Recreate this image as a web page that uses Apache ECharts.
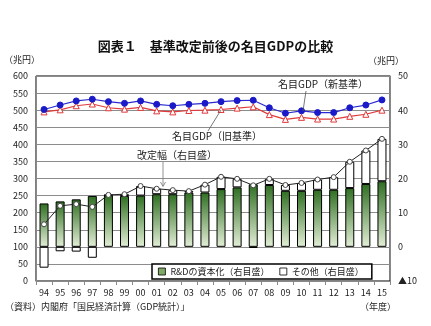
<!DOCTYPE html>
<html>
<head>
<meta charset="utf-8">
<script src="https://cdn.jsdelivr.net/npm/echarts@6/dist/echarts.min.js"></script>
<style>
  html, body { margin: 0; padding: 0; background: #fff; }
  #chart { width: 431px; height: 326px; }
</style>
</head>
<body>
<div id="chart"></div>
<script>
// Fiscal years
const years = ['94','95','96','97','98','99','00','01','02','03','04','05','06','07','08','09','10','11','12','13','14','15'];

// Nominal GDP, trillion yen (left axis)
const gdpNew = [502, 515, 527, 532, 525, 520, 527, 517, 513, 517, 520, 525, 528, 529, 507, 491, 498, 493, 493, 507, 515, 530];
const gdpOld = [495, 501, 513, 518, 507, 503, 508, 498, 495, 499, 500, 502, 506, 510, 487, 473, 479, 474, 474, 482, 488, 500];

// Revision breakdown, trillion yen (right axis)
const rdCapital = [12.7, 13.3, 13.9, 14.9, 15.1, 14.9, 15.0, 15.4, 15.4, 15.9, 15.9, 16.9, 17.4, 18.3, 18.1, 16.4, 16.4, 16.7, 16.7, 17.2, 18.4, 19.2];
const otherItems = [-6.1, -1.3, -1.4, -3.2, 0.1, 0.5, 2.8, 1.6, 1.2, 0.4, 2.3, 3.6, 2.5, -0.3, 1.8, 1.7, 2.3, 3.0, 3.7, 7.7, 9.8, 12.4];
const revision = [6.6, 12.0, 12.5, 11.7, 15.2, 15.4, 17.8, 17.0, 16.6, 16.3, 18.2, 20.5, 19.9, 18.0, 19.9, 18.1, 18.7, 19.7, 20.4, 24.9, 28.2, 31.6];

// Tick labels
const leftTicks = [0, 50, 100, 150, 200, 250, 300, 350, 400, 450, 500, 550, 600];
const rightTickLabel = v => (v < 0 ? '▲' + Math.abs(v) : String(v));

const FONT = '"Noto Sans CJK JP", "Noto Sans", sans-serif';
const chart = echarts.init(document.getElementById('chart'), null, { renderer: 'canvas' });

const greenFill = new echarts.graphic.LinearGradient(0, 0, 0, 1, [
  { offset: 0, color: '#2f6e22' },
  { offset: 1, color: '#e3efd6' }
]);

chart.setOption({
  animation: false,
  backgroundColor: '#fff',
  textStyle: { fontFamily: FONT },
  grid: { left: 36, right: 41, top: 76, bottom: 45, show: true, borderColor: '#000', borderWidth: 1, containLabel: false },
  legend: {
    orient: 'horizontal',
    left: 152, top: 264,
    itemWidth: 7, itemHeight: 7, itemGap: 10,
    padding: [3, 8, 3, 6],
    backgroundColor: '#fff', borderColor: '#000', borderWidth: 1.5,
    textStyle: { fontSize: 9, color: '#222', fontFamily: FONT },
    data: [
      { name: 'R&Dの資本化（右目盛）', icon: 'rect', itemStyle: { color: '#7faa66', borderColor: '#000', borderWidth: 0.8 } },
      { name: 'その他（右目盛）', icon: 'rect', itemStyle: { color: '#fff', borderColor: '#000', borderWidth: 0.8 } }
    ]
  },
  xAxis: {
    type: 'category', data: years,
    axisLine: { onZero: false, lineStyle: { color: '#888', width: 1 } },
    axisTick: { show: true, alignWithLabel: false, length: 4, lineStyle: { color: '#888' } },
    axisLabel: { fontSize: 9, color: '#222', margin: 7, fontFamily: FONT },
    splitLine: { show: false }
  },
  yAxis: [
    {
      type: 'value', min: 0, max: 600, interval: 50, position: 'left',
      axisLine: { show: true, lineStyle: { color: '#888' } },
      axisTick: { show: false },
      axisLabel: { fontSize: 9, color: '#222', margin: 8, fontFamily: FONT,
        formatter: v => (leftTicks.includes(v) ? String(v) : '') },
      splitLine: { show: true, lineStyle: { color: '#8c8c8c', width: 1 } }
    },
    {
      type: 'value', min: -10, max: 50, interval: 10, position: 'right',
      axisLine: { show: true, lineStyle: { color: '#888' } },
      axisTick: { show: false },
      axisLabel: { fontSize: 9, color: '#222', margin: 8, fontFamily: FONT, formatter: rightTickLabel },
      splitLine: { show: false }
    }
  ],
  series: [
    {
      name: 'R&Dの資本化（右目盛）', type: 'bar', yAxisIndex: 1, stack: 'rev', barWidth: 9,
      data: rdCapital,
      itemStyle: { color: greenFill, borderColor: '#000', borderWidth: 1 },
      z: 2
    },
    {
      name: 'その他（右目盛）', type: 'bar', yAxisIndex: 1, stack: 'rev', barWidth: 9,
      data: otherItems,
      itemStyle: { color: '#fff', borderColor: '#000', borderWidth: 1 },
      z: 2
    },
    {
      name: '改定幅（右目盛）', type: 'line', yAxisIndex: 1, data: revision,
      symbol: 'circle', symbolSize: 5, showAllSymbol: true,
      lineStyle: { color: '#222', width: 1 },
      itemStyle: { color: '#fff', borderColor: '#444', borderWidth: 1 },
      z: 4
    },
    {
      name: '名目GDP（旧基準）', type: 'line', yAxisIndex: 0, data: gdpOld,
      symbol: 'triangle', symbolSize: 6, showAllSymbol: true,
      lineStyle: { color: '#e03a3a', width: 1.2 },
      itemStyle: { color: '#fff', borderColor: '#e03a3a', borderWidth: 1 },
      z: 5
    },
    {
      name: '名目GDP（新基準）', type: 'line', yAxisIndex: 0, data: gdpNew,
      symbol: 'circle', symbolSize: 6, showAllSymbol: true,
      lineStyle: { color: '#2a2ad0', width: 1.2 },
      itemStyle: { color: '#1a1ac8', borderColor: '#1a1ac8', borderWidth: 1 },
      z: 6
    }
  ],
  graphic: [
    { type: 'text', left: 'center', top: 40, style: { text: '図表１　基準改定前後の名目GDPの比較', font: 'bold 13px ' + FONT, fill: '#111' } },
    { type: 'text', left: 4, top: 55, style: { text: '（兆円）', font: '9px ' + FONT, fill: '#222' } },
    { type: 'text', left: 368, top: 56, style: { text: '（兆円）', font: '9px ' + FONT, fill: '#222' } },
    { type: 'text', left: 278, top: 79, style: { text: '名目GDP（新基準）', font: '10px ' + FONT, fill: '#222' } },
    { type: 'line', shape: { x1: 306, y1: 91, x2: 303, y2: 111 }, style: { stroke: '#555', lineWidth: 0.8 }, z: 10 },
    { type: 'text', left: 172, top: 131, style: { text: '名目GDP（旧基準）', font: '10px ' + FONT, fill: '#222' } },
    { type: 'line', shape: { x1: 208, y1: 131, x2: 221, y2: 110 }, style: { stroke: '#555', lineWidth: 0.8 }, z: 10 },
    { type: 'text', left: 137, top: 150, style: { text: '改定幅（右目盛）', font: '10px ' + FONT, fill: '#222' } },
    { type: 'line', shape: { x1: 163, y1: 162, x2: 163, y2: 186 }, style: { stroke: '#777', lineWidth: 0.8 }, z: 10 },
    { type: 'polyline', shape: { points: [[160.5, 182], [163, 186.5], [165.5, 182]] }, style: { stroke: '#777', fill: null, lineWidth: 0.8 }, z: 10 },
    { type: 'text', left: 5, top: 302, style: { text: '（資料）内閣府「国民経済計算（GDP統計）」', font: '9px ' + FONT, fill: '#222' } },
    { type: 'text', left: 360, top: 302, style: { text: '（年度）', font: '9px ' + FONT, fill: '#222' } }
  ]
});
</script>
</body>
</html>
